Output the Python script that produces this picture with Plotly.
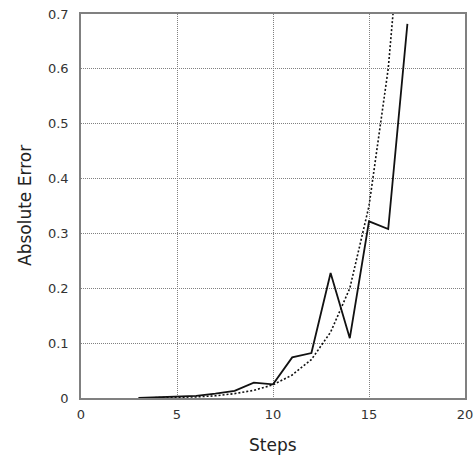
import plotly.graph_objects as go

steps = [3, 4, 5, 6, 7, 8, 9, 10, 11, 12, 13, 14, 15, 16, 17]
error_measured = [0.0, 0.001, 0.002, 0.004, 0.008, 0.013, 0.028, 0.025, 0.074, 0.082, 0.228, 0.109, 0.322, 0.308, 0.682]
fit_steps = [3, 4, 5, 6, 7, 8, 9, 10, 11, 12, 13, 14, 15, 16, 16.5, 17]
error_fit = [0.0, 0.0005, 0.001, 0.002, 0.004, 0.008, 0.014, 0.024, 0.042, 0.07, 0.12, 0.2, 0.35, 0.6, 0.8, 1.0]

x_ticks = [0, 5, 10, 15, 20]
y_ticks = [0, 0.1, 0.2, 0.3, 0.4, 0.5, 0.6, 0.7]
y_labels = ["0", "0.1", "0.2", "0.3", "0.4", "0.5", "0.6", "0.7"]

fig = go.Figure()
fig.add_trace(go.Scatter(x=fit_steps, y=error_fit, mode="lines",
                         line=dict(color="#111111", width=1.6, dash="2px,2px"), showlegend=False))
fig.add_trace(go.Scatter(x=steps, y=error_measured, mode="lines",
                         line=dict(color="#111111", width=1.8), showlegend=False))

axis_common = dict(showline=True, linecolor="#808080", linewidth=1.5, mirror=True,
                   showgrid=True, gridcolor="#808080", griddash="1px,1px", gridwidth=1,
                   zeroline=False, ticks="", automargin=False, ticklabeloverflow="allow",
                   tickfont=dict(family="DejaVu Sans", size=13, color="#333333"))

fig.update_xaxes(range=[0, 20], tickvals=x_ticks, ticktext=[str(v) for v in x_ticks],
                 ticklabelstandoff=4, **axis_common)
fig.update_yaxes(range=[0, 0.7], tickvals=y_ticks, ticktext=y_labels,
                 ticklabelstandoff=8, **axis_common)

title_font = dict(family="DejaVu Sans", size=17, color="#222222")
fig.add_annotation(text="Steps", xref="paper", yref="paper", x=0.5, y=0,
                   yshift=-47, xanchor="center", yanchor="middle", showarrow=False, font=title_font)
fig.add_annotation(text="Absolute Error", xref="paper", yref="paper", x=0, y=0.5,
                   xshift=-56, xanchor="center", yanchor="middle", textangle=-90,
                   showarrow=False, font=title_font)

fig.update_layout(width=474, height=459, margin=dict(l=81, r=9, t=14, b=61),
                  plot_bgcolor="white", paper_bgcolor="white")

fig.write_html(
    "out.html",
    config={"displayModeBar": False},
    post_script="document.body.style.margin='0';document.body.style.overflow='hidden';"
                "document.documentElement.style.overflow='hidden';",
)
